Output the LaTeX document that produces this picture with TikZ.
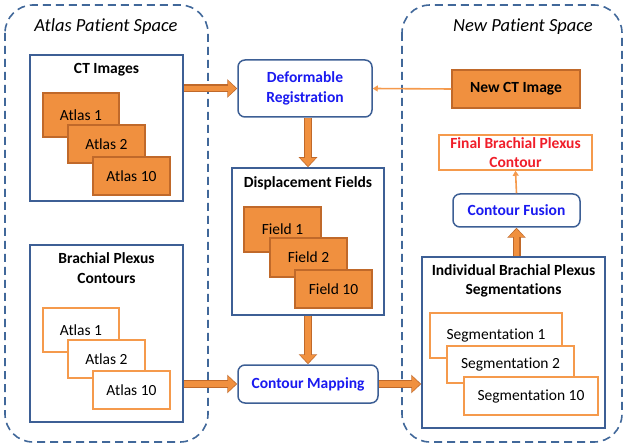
\documentclass[tikz,border=0pt]{standalone}
\usepackage{fontspec}
\setmainfont{Carlito}[Ligatures=NoCommon]
\usetikzlibrary{arrows.meta,calc}
\definecolor{spaceblue}{HTML}{41689A}
\definecolor{boxblue}{HTML}{3D5F95}
\definecolor{ofill}{HTML}{F0903F}
\definecolor{odark}{HTML}{C0692A}
\definecolor{oline}{HTML}{F59A4C}
\definecolor{txtblue}{HTML}{1A1AF0}
\definecolor{txtred}{HTML}{F01E2A}
\newcommand\bodyfont{\fontsize{15.5}{19.5}\selectfont}
\tikzset{
  space/.style={draw=spaceblue, line width=1.6pt, dash pattern=on 8pt off 5pt, rounded corners=28pt},
  spacename/.style={font=\fontsize{18.5}{21}\selectfont\itshape},
  panel/.style={draw=boxblue, line width=1.5pt, fill=white},
  heading/.style={font=\bodyfont\bfseries, align=center},
  stepbox/.style={draw=boxblue, line width=1.5pt, fill=white, rounded corners=7pt, font=\bodyfont\bfseries\color{txtblue}, align=center},
  solid box/.style={draw=odark, line width=1.2pt, fill=ofill},
  hollow box/.style={draw=oline, line width=1.5pt, fill=white},
  fat/.style={draw=ofill, line width=5.5pt, shorten >=1.2pt, -{Triangle[length=8pt,width=15pt]},
    preaction={draw=odark, line width=8pt, shorten >=0pt, -{Triangle[length=10pt,width=18pt]}}},
  thin/.style={draw=oline, line width=1.6pt, -{Triangle[length=5pt,width=6pt]}},
}
\begin{document}
\begin{tikzpicture}[x=1pt, y=-1pt, font=\bodyfont]
		\useasboundingbox (0,0) rectangle (629,446);
		
		%%%%% SPACES %%%%%
		\draw[space] (5,5) rectangle (208,442);
		\draw[space] (402,5) rectangle (622,442);
		\node[spacename] (atlasspace) at (106,27) {Atlas Patient Space};
		\node[spacename] (newspace) at (523,27) {New Patient Space};
		
		%%%%% ATLAS CT %%%%%
		\node[panel, minimum width=153pt, minimum height=146pt] (ct) at (106.5,128) {};
		\node[heading] at (106.5,70) {CT Images};
		\node[solid box, minimum width=76pt, minimum height=44pt] (ct1) at (81,115) {Atlas 1};
		\node[solid box, minimum width=77pt, minimum height=38pt] (ct2) at (106.5,144) {Atlas 2};
		\node[solid box, minimum width=77pt, minimum height=38pt] (ct10) at (131.5,176) {Atlas 10};
		
		%%%%% ATLAS CONTOURS %%%%%
		\node[panel, minimum width=153pt, minimum height=177pt] (bp) at (106.5,333.5) {};
		\node[heading] at (106.5,268) {Brachial Plexus\\Contours};
		\node[hollow box, minimum width=76pt, minimum height=44pt] (bp1) at (81,330) {Atlas 1};
		\node[hollow box, minimum width=77pt, minimum height=38pt] (bp2) at (106.5,359) {Atlas 2};
		\node[hollow box, minimum width=77pt, minimum height=38pt] (bp10) at (131.5,390) {Atlas 10};
		
		%%%%% MIDDLE %%%%%
		\node[stepbox, minimum width=134pt, minimum height=57pt] (dr) at (305,88.5) {Deformable\\Registration};
		\node[panel, minimum width=152pt, minimum height=147pt] (disp) at (308,241.5) {};
		\node[heading] at (308,183) {Displacement Fields};
		\node[solid box, minimum width=77pt, minimum height=45pt] (f1) at (282.5,229.5) {Field 1};
		\node[solid box, minimum width=77pt, minimum height=39pt] (f2) at (308.5,257.5) {Field 2};
		\node[solid box, minimum width=77pt, minimum height=38pt] (f10) at (333.5,289) {Field 10};
		\node[stepbox, minimum width=140pt, minimum height=38pt] (cm) at (308,384) {Contour Mapping};
		
		%%%%% NEW PATIENT %%%%%
		\node[solid box, heading, minimum width=128pt, minimum height=38pt] (newct) at (516,89) {New CT Image};
		\node[hollow box, heading, minimum width=153pt, minimum height=35pt, inner sep=1pt, text=txtred] (final) at (515.5,152.5) {Final Brachial Plexus\\Contour};
		\node[stepbox, minimum width=127pt, minimum height=33pt] (cf) at (516.5,210.5) {Contour Fusion};
		\node[panel, minimum width=183pt, minimum height=171pt] (seg) at (513.5,342.5) {};
		\node[heading] at (513.5,281) {Individual Brachial Plexus\\Segmentations};
		\node[hollow box, minimum width=132pt, minimum height=45pt] (s1) at (496,335.5) {Segmentation 1};
		\node[hollow box, minimum width=127pt, minimum height=37pt] (s2) at (510.5,364.5) {Segmentation 2};
		\node[hollow box, minimum width=134pt, minimum height=38pt] (s10) at (531,396) {Segmentation 10};
		
		%%%%% ARROWS %%%%%
		\draw[fat] (dr.west -| ct.east) -- (dr.west);
		\draw[thin] (newct.west) -- (dr.east);
		\draw[fat] (disp.north |- dr.south) -- (disp.north);
		\draw[fat] (disp.south) -- (cm.north);
		\draw[fat] (cm.west -| bp.east) -- (cm.west);
		\draw[fat] (cm.east) -- (cm.east -| seg.west);
		\draw[fat] (cf.south |- seg.north) -- (cf.south);
		\draw[thin] (cf.north) -- (final.south);
		
\end{tikzpicture}
\end{document}
